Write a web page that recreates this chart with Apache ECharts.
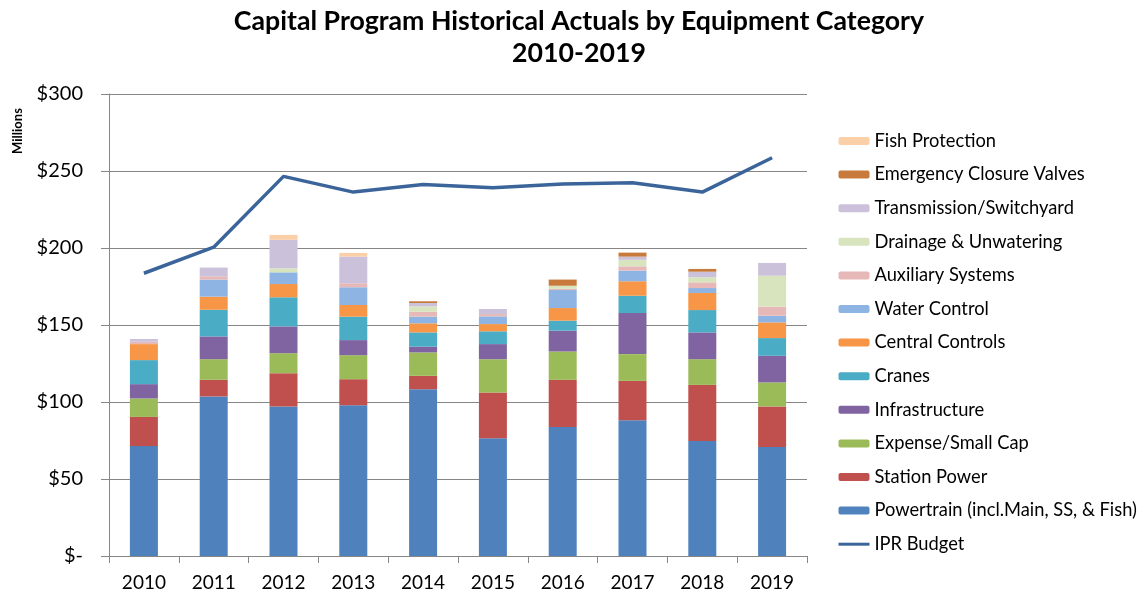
<!DOCTYPE html>
<html>
<head>
<meta charset="utf-8">
<script src="https://cdn.jsdelivr.net/npm/echarts@6/dist/echarts.min.js"></script>
<style>
  html, body { margin: 0; padding: 0; background: #fff; }
  #chart { width: 1138px; height: 598px; }
</style>
</head>
<body>
<div id="chart"></div>
<script>
// Capital program actuals by equipment category, $ millions
const years = ['2010', '2011', '2012', '2013', '2014', '2015', '2016', '2017', '2018', '2019'];

const powertrain      = [71.4, 103.6, 97.1, 97.9, 108.3, 76.4, 83.8, 88.2, 74.7, 70.8];
const stationPower    = [18.9, 10.8, 21.6, 16.9, 8.7, 29.8, 30.6, 25.5, 36.4, 26.3];
const expenseSmallCap = [12.0, 13.4, 13.0, 15.6, 15.2, 21.6, 18.4, 17.4, 16.7, 15.6];
const infrastructure  = [9.3, 14.8, 17.4, 9.8, 3.7, 9.8, 13.5, 26.7, 17.4, 17.3];
const cranes          = [15.6, 17.3, 18.9, 15.2, 9.3, 8.3, 6.5, 11.2, 14.5, 11.5];
const centralControls = [10.4, 8.5, 8.6, 7.6, 5.9, 4.7, 8.2, 9.4, 11.1, 10.2];
const waterControl    = [0, 11.1, 7.6, 11.5, 4.3, 5.0, 11.7, 6.9, 3.2, 4.3];
const auxiliary       = [1.5, 2.1, 0, 2.6, 3.2, 1.5, 0.8, 2.8, 3.7, 5.9];
const drainage        = [0, 0, 2.6, 0, 3.5, 0, 2.0, 4.2, 3.3, 20.1];
const transmission    = [1.8, 5.7, 18.5, 17.3, 2.2, 3.3, 0, 2.1, 3.6, 8.3];
const emergencyValves = [0, 0, 0, 0, 1.1, 0, 4.0, 2.6, 1.8, 0];
const fishProtection  = [0, 0, 3.2, 2.4, 0, 0, 0, 0, 0, 0];
const iprBudget       = [183.6, 200.5, 246.5, 236.3, 241.3, 239.1, 241.5, 242.4, 236.3, 258.6];

const yTicks = [0, 50, 100, 150, 200, 250, 300];

const FONT = 'Lato, "Open Sans", sans-serif';
const BUDGET_COLOR = '#3B659A';

const stackDefs = [
  ['Powertrain (incl.Main, SS, & Fish)', powertrain, '#4F81BD'],
  ['Station Power', stationPower, '#C0504D'],
  ['Expense/Small Cap', expenseSmallCap, '#9BBB59'],
  ['Infrastructure', infrastructure, '#8064A2'],
  ['Cranes', cranes, '#4BACC6'],
  ['Central Controls', centralControls, '#F79646'],
  ['Water Control', waterControl, '#8DB4E2'],
  ['Auxiliary Systems', auxiliary, '#E6B9B8'],
  ['Drainage & Unwatering', drainage, '#D7E4BD'],
  ['Transmission/Switchyard', transmission, '#CCC1DA'],
  ['Emergency Closure Valves', emergencyValves, '#C77A3C'],
  ['Fish Protection', fishProtection, '#FBCFA8']
];

const series = stackDefs.map(([name, data, color]) => ({
  name,
  type: 'bar',
  stack: 'actuals',
  data,
  barWidth: 28,
  itemStyle: { color },
  emphasis: { disabled: true }
}));

series.push({
  name: 'IPR Budget',
  type: 'line',
  data: iprBudget,
  symbol: 'none',
  lineStyle: { color: BUDGET_COLOR, width: 3.5 },
  itemStyle: { color: BUDGET_COLOR },
  z: 5
});

// Legend lists the stack top-down, then the budget line (line only, no marker)
const legendOrder = stackDefs.map(d => d[0]).reverse().map(name => ({ name }));
legendOrder.push({ name: 'IPR Budget', itemStyle: { opacity: 0 }, lineStyle: { color: BUDGET_COLOR, width: 3 } });

const chart = echarts.init(document.getElementById('chart'), null, { renderer: 'canvas' });
chart.setOption({
  animation: false,
  backgroundColor: '#fff',
  title: {
    text: 'Capital Program Historical Actuals by Equipment Category\n2010-2019',
    left: 574,
    top: 0,
    textAlign: 'center',
    textStyle: {
      fontFamily: FONT,
      fontWeight: 'bold',
      fontSize: 26.7,
      lineHeight: 32,
      color: '#000'
    }
  },
  legend: {
    orient: 'vertical',
    left: 832,
    top: 126,
    itemWidth: 31,
    itemHeight: 8,
    itemGap: 13.6,
    data: legendOrder,
    textStyle: { fontFamily: FONT, fontSize: 18.3, lineHeight: 20, color: '#000' },
    selectedMode: false
  },
  grid: { left: 109, right: 331, top: 94, bottom: 42, containLabel: false },
  xAxis: {
    type: 'category',
    data: years,
    axisLine: { lineStyle: { color: '#868686', width: 1 } },
    axisTick: { show: true, alignWithLabel: false, length: 7, lineStyle: { color: '#868686' } },
    axisLabel: { fontFamily: FONT, fontSize: 19, color: '#000', margin: 17 }
  },
  yAxis: {
    type: 'value',
    min: yTicks[0],
    max: yTicks[yTicks.length - 1],
    interval: yTicks[1] - yTicks[0],
    axisLine: { show: true, lineStyle: { color: '#868686', width: 1 } },
    axisTick: { show: true, length: 8, lineStyle: { color: '#868686' } },
    splitLine: { lineStyle: { color: '#868686', width: 1 } },
    axisLabel: {
      fontFamily: FONT,
      fontSize: 20,
      color: '#000',
      margin: 26,
      formatter: v => (v === 0 ? '$-' : '$' + v)
    }
  },
  graphic: [{
    type: 'text',
    x: 18,
    y: 131,
    rotation: Math.PI / 2,
    style: {
      text: 'Millions',
      fontFamily: FONT,
      fontWeight: 'bold',
      fontSize: 13,
      fill: '#000',
      textAlign: 'center',
      textVerticalAlign: 'middle'
    }
  }],
  series
});
</script>
</body>
</html>
